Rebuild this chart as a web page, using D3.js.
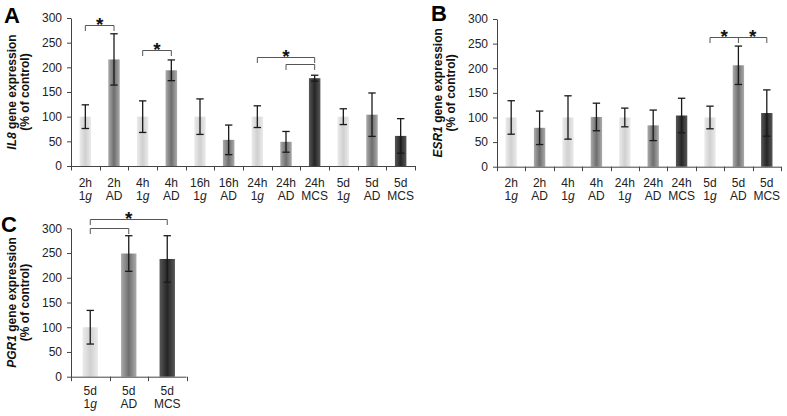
<!DOCTYPE html>
<html><head><meta charset="utf-8">
<script src="https://cdn.jsdelivr.net/npm/d3@7"></script>
<style>body{margin:0;background:#fff}svg{display:block}</style>
</head><body>
<script>
// ---------------- data ----------------
const yTicks = [0, 50, 100, 150, 200, 250, 300];

const il8Times  = ["2h","2h","4h","4h","16h","16h","24h","24h","24h","5d","5d","5d"];
const il8Groups = ["1g","AD","1g","AD","1g","AD","1g","AD","MCS","1g","AD","MCS"];
const il8Values = [100, 216, 100, 194, 100, 53, 100, 49, 178, 100, 104, 61];
const il8Errors = [24, 52, 32, 21, 36, 30, 22, 21, 6, 16, 44, 35];
// brackets: [from, to, level, middle ticks]
const il8Brackets = [[0,1,286,[]],[2,3,236,[]],[6,8,220,[]],[7,8,207,[]]];
// stars: [from, to, level]  (placed at midpoint above the bracket level)
const il8Stars = [[0,1,286],[2,3,236],[6,8,220]];

const esr1Times  = ["2h","2h","4h","4h","24h","24h","24h","5d","5d","5d"];
const esr1Groups = ["1g","AD","1g","AD","1g","AD","MCS","1g","AD","MCS"];
const esr1Values = [100, 79, 100, 101, 100, 84, 104, 100, 206, 109];
const esr1Errors = [34, 34, 44, 28, 19, 31, 35, 23, 39, 47];
const esr1Brackets = [[7,9,263,[8]]];
const esr1Stars = [[7,8,263],[8,9,263]];

const pgr1Times  = ["5d","5d","5d"];
const pgr1Groups = ["1g","AD","MCS"];
const pgr1Values = [100, 249, 238];
const pgr1Errors = [34, 36, 47];
const pgr1Brackets = [[0,2,319,[]],[0,1,301,[]]];
const pgr1Stars = [[0,2,319]];

// ---------------- drawing ----------------
const W = 787, H = 416;
const FONT = "Arial, 'Liberation Sans', Helvetica, sans-serif";
const svg = d3.select("body").append("svg").attr("width", W).attr("height", H)
  .style("font-family", FONT);

const gradColors = {
  "1g":  ["#ebebeb", "#d0d0d0"],
  "AD":  ["#ababab", "#6e6e6e"],
  "MCS": ["#575757", "#262626"]
};
const defs = svg.append("defs");
Object.entries(gradColors).forEach(([k, [edge, mid]]) => {
  const g = defs.append("linearGradient").attr("id", "grad" + k)
    .attr("x1", "0%").attr("x2", "100%").attr("y1", "0%").attr("y2", "0%");
  g.append("stop").attr("offset", "0%").attr("stop-color", edge);
  g.append("stop").attr("offset", "50%").attr("stop-color", mid);
  g.append("stop").attr("offset", "100%").attr("stop-color", edge);
});

function panel(cfg) {
  const {x0, x1, yTop, yBot, times, groups, values, errors, brackets, stars,
         gene, letter, letterX, letterY, lab1, lab2} = cfg;
  const n = values.length;
  const idx = d3.range(n);
  const x = d3.scaleBand().domain(idx).range([x0, x1]).paddingInner(0.6).paddingOuter(0.3);
  const y = d3.scaleLinear().domain([0, 300]).range([yBot, yTop]);
  const step = x.step();
  const cx = i => x(i) + x.bandwidth() / 2;
  const g = svg.append("g");

  // bars
  g.selectAll("rect.bar").data(idx).join("rect")
    .attr("x", i => x(i)).attr("width", x.bandwidth())
    .attr("y", i => y(values[i])).attr("height", i => y(0) - y(values[i]))
    .attr("fill", i => `url(#grad${groups[i]})`);

  // error bars
  const eb = g.append("g").attr("stroke", "#1a1a1a").attr("stroke-width", 1.3).attr("fill", "none");
  idx.forEach(i => {
    const hi = y(values[i] + errors[i]), lo = y(values[i] - errors[i]);
    eb.append("line").attr("x1", cx(i)).attr("x2", cx(i)).attr("y1", hi).attr("y2", lo);
    eb.append("line").attr("x1", cx(i) - 3.7).attr("x2", cx(i) + 3.7).attr("y1", hi).attr("y2", hi);
    eb.append("line").attr("x1", cx(i) - 3.7).attr("x2", cx(i) + 3.7).attr("y1", lo).attr("y2", lo);
  });

  // y axis
  const ya = g.append("g").attr("transform", `translate(${x0},0)`)
    .call(d3.axisLeft(y).tickValues(yTicks).tickSize(4).tickSizeOuter(0).tickPadding(5));
  ya.select(".domain").attr("stroke", "#444");
  ya.selectAll(".tick line").attr("stroke", "#444");
  ya.selectAll(".tick text").attr("font-size", 12).attr("fill", "#222").style("font-family", FONT);

  // x axis
  const xa = g.append("g").attr("stroke", "#444").attr("stroke-width", 1);
  xa.append("line").attr("x1", x0).attr("x2", x1).attr("y1", yBot + 0.5).attr("y2", yBot + 0.5);
  d3.range(n + 1).forEach(k => {
    const xx = Math.round(x0 + k * step) + 0.5;
    xa.append("line").attr("x1", xx).attr("x2", xx).attr("y1", yBot).attr("y2", yBot + 4.5);
  });
  idx.forEach(i => {
    const t = g.append("text").attr("text-anchor", "middle").attr("font-size", 12).attr("fill", "#222");
    t.append("tspan").attr("x", cx(i)).attr("y", yBot + lab1).text(times[i]);
    const t2 = t.append("tspan").attr("x", cx(i)).attr("y", yBot + lab2);
    if (groups[i] === "1g") {
      t2.text("1");
      t2.append("tspan").attr("font-style", "italic").text("g");
    } else t2.text(groups[i]);
  });

  // brackets
  const br = g.append("g").attr("stroke", "#555").attr("stroke-width", 1).attr("fill", "none");
  brackets.forEach(([a, b, lev, mids]) => {
    const yy = Math.round(y(lev)) + 0.5;
    const tick = 5.5;
    br.append("path").attr("d",
      `M${cx(a)},${yy + tick}V${yy}H${cx(b)}V${yy + tick}`);
    mids.forEach(m => br.append("line").attr("x1", cx(m)).attr("x2", cx(m)).attr("y1", yy).attr("y2", yy + tick));
  });
  stars.forEach(([a, b, lev]) => {
    g.append("text").attr("x", (cx(a) + cx(b)) / 2).attr("y", y(lev) + 6)
      .attr("text-anchor", "middle").attr("font-size", 19).attr("font-weight", "bold")
      .attr("fill", "#111").text("*");
  });

  // y title
  const yc = (yTop + yBot) / 2;
  const tt = g.append("text").attr("transform", `translate(${x0 - 55},${yc}) rotate(-90)`)
    .attr("text-anchor", "middle").attr("font-size", 12).attr("font-weight", "bold").attr("fill", "#111");
  tt.append("tspan").attr("font-style", "italic").text(gene);
  tt.append("tspan").text(" gene expression");
  g.append("text").attr("transform", `translate(${x0 - 42},${yc}) rotate(-90)`)
    .attr("text-anchor", "middle").attr("font-size", 12).attr("font-weight", "bold").attr("fill", "#111")
    .text("(% of control)");

  // panel letter
  g.append("text").attr("x", letterX).attr("y", letterY).attr("font-size", 22)
    .attr("font-weight", "bold").attr("fill", "#000").text(letter);
}

panel({x0: 71, x1: 415, yTop: 18, yBot: 166, times: il8Times, groups: il8Groups,
  values: il8Values, errors: il8Errors, brackets: il8Brackets, stars: il8Stars,
  gene: "IL8", letter: "A", letterX: 4, letterY: 23, lab1: 20.5, lab2: 33.5});
panel({x0: 497, x1: 781, yTop: 19, yBot: 166.7, times: esr1Times, groups: esr1Groups,
  values: esr1Values, errors: esr1Errors, brackets: esr1Brackets, stars: esr1Stars,
  gene: "ESR1", letter: "B", letterX: 431, letterY: 20.5, lab1: 20, lab2: 33});
panel({x0: 71, x1: 186.5, yTop: 228.3, yBot: 376.7, times: pgr1Times, groups: pgr1Groups,
  values: pgr1Values, errors: pgr1Errors, brackets: pgr1Brackets, stars: pgr1Stars,
  gene: "PGR1", letter: "C", letterX: 1, letterY: 231.5, lab1: 18, lab2: 31});
</script>
</body></html>
